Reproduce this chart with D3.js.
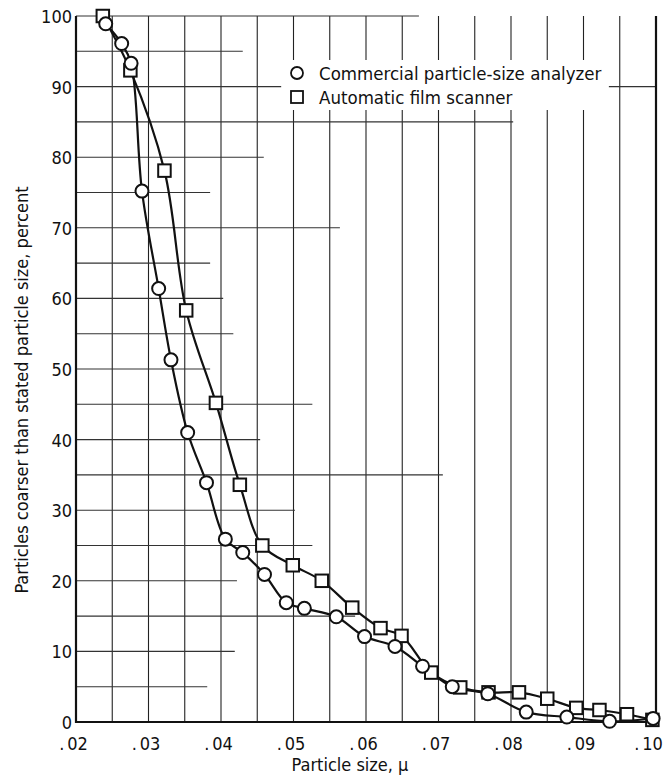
<!DOCTYPE html>
<html>
<head>
<meta charset="utf-8">
<script src="https://cdn.jsdelivr.net/npm/d3@7"></script>
<style>
  body { margin: 0; background: #fff; }
  svg text { font-family: "Liberation Sans Narrow", "DejaVu Sans Condensed", "DejaVu Sans", sans-serif; font-stretch: condensed; fill: #111; }
</style>
</head>
<body>
<div id="chart"></div>
<script>
// particle size (micron) vs percent coarser
const analyzerSize = [0.0241, 0.0263, 0.0276, 0.0291, 0.0314, 0.0331, 0.0354, 0.0380, 0.0406, 0.0430,
  0.0460, 0.0490, 0.0515, 0.0559, 0.0598, 0.0640, 0.0678, 0.0719, 0.0768, 0.0821, 0.0877, 0.0936, 0.0996];
const analyzerPct = [98.9, 96.1, 93.3, 75.2, 61.4, 51.3, 41.0, 33.9, 25.9, 24.0,
  20.9, 16.9, 16.1, 14.9, 12.1, 10.7, 7.9, 5.0, 4.0, 1.4, 0.7, 0.1, 0.5];

const scannerSize = [0.0237, 0.0275, 0.0322, 0.0352, 0.0393, 0.0426, 0.0457, 0.0499, 0.0539, 0.0581,
  0.0620, 0.0649, 0.0690, 0.0730, 0.0769, 0.0811, 0.0850, 0.0890, 0.0922, 0.0960, 0.0995];
const scannerPct = [100, 92.3, 78.1, 58.3, 45.2, 33.6, 25.0, 22.2, 20.0, 16.2,
  13.3, 12.2, 7.0, 4.9, 4.2, 4.2, 3.3, 2.0, 1.7, 1.1, 0.3];

const xTicks = [0.02, 0.03, 0.04, 0.05, 0.06, 0.07, 0.08, 0.09, 0.10];
const xTickLabels = ['.02', '.03', '.04', '.05', '.06', '.07', '.08', '.09', '.10'];
const yTicks = [0, 10, 20, 30, 40, 50, 60, 70, 80, 90, 100];

// graph-paper lines: vertical every .005, horizontal every 5 percent (ruled only part way)
const vGrid = d3.range(0.025, 0.1, 0.005);
const hGridLevels = [100, 95, 90, 85, 80, 75, 70, 65, 60, 55, 50, 45, 40, 35, 30, 25, 20, 15, 10, 5];
const hGridEnds   = [0.0673, 0.0430, 0.0483, 0.0803, 0.0459, 0.0385, 0.0564, 0.0385, 0.0403, 0.0417,
  0.0385, 0.0526, 0.0454, 0.0706, 0.0502, 0.0526, 0.0422, 0.0585, 0.0419, 0.0381];

const legendLabels = ['Commercial particle-size analyzer', 'Automatic film scanner'];

const width = 663, height = 776;
const margin = { top: 16, right: 7, bottom: 54, left: 76 };

const svg = d3.select('#chart').append('svg')
  .attr('width', width)
  .attr('height', height);

const x = d3.scaleLinear().domain([0.02, 0.10]).range([margin.left, width - margin.right]);
const y = d3.scaleLinear().domain([0, 100]).range([height - margin.bottom, margin.top]);

// vertical grid
svg.append('g').selectAll('line')
  .data(vGrid)
  .join('line')
  .attr('x1', d => x(d)).attr('x2', d => x(d))
  .attr('y1', y(0)).attr('y2', y(100))
  .attr('stroke', '#222')
  .attr('stroke-width', 1.1);

// horizontal grid
svg.append('g').selectAll('line')
  .data(hGridLevels)
  .join('line')
  .attr('x1', x(0.02))
  .attr('x2', (d, i) => x(hGridEnds[i]))
  .attr('y1', d => y(d)).attr('y2', d => y(d))
  .attr('stroke', '#333')
  .attr('stroke-width', 1.1);

// short piece of the 90 line to the right of the legend
svg.append('line')
  .attr('x1', x(0.0935)).attr('x2', x(0.10))
  .attr('y1', y(90)).attr('y2', y(90))
  .attr('stroke', '#333').attr('stroke-width', 1.1);

// frame: left, bottom, right
svg.append('path')
  .attr('d', `M${x(0.02)},${y(100)}V${y(0)}H${x(0.10)}V${y(100)}`)
  .attr('fill', 'none')
  .attr('stroke', '#111')
  .attr('stroke-width', 2.2);

// axes
const xAxis = d3.axisBottom(x)
  .tickValues(xTicks)
  .tickSize(0)
  .tickFormat((d, i) => xTickLabels[i]);

const xAxisG = svg.append('g')
  .attr('transform', `translate(0,${y(0)})`)
  .call(xAxis);
xAxisG.select('.domain').remove();
xAxisG.selectAll('text')
  .attr('y', 15)
  .attr('dx', (d, i) => i === xTicks.length - 1 ? -8 : -3)
  .style('font-size', '18px')
  .each(function (d, i) {
    const t = d3.select(this);
    const lab = xTickLabels[i];
    t.text(null);
    t.append('tspan').text(lab.slice(0, 1));
    t.append('tspan').attr('dx', 3).text(lab.slice(1));
  });

const yAxis = d3.axisLeft(y)
  .tickValues(yTicks)
  .tickSize(0)
  .tickFormat(d3.format('d'));

const yAxisG = svg.append('g')
  .attr('transform', `translate(${x(0.02)},0)`)
  .call(yAxis);
yAxisG.select('.domain').remove();
yAxisG.selectAll('text')
  .attr('x', -4)
  .attr('dy', '0.36em')
  .style('font-size', '18px');

// axis titles
svg.append('text')
  .attr('x', 350)
  .attr('y', 771)
  .attr('text-anchor', 'middle')
  .style('font-size', '18px')
  .text('Particle size, \u03bc');

svg.append('text')
  .attr('transform', 'translate(28,390) rotate(-90)')
  .attr('text-anchor', 'middle')
  .style('font-size', '18px')
  .text('Particles coarser than stated particle size, percent');

// data lines
const analyzer = analyzerSize.map((d, i) => ({ size: d, pct: analyzerPct[i] }));
const scanner = scannerSize.map((d, i) => ({ size: d, pct: scannerPct[i] }));

const line = d3.line()
  .x(d => x(d.size))
  .y(d => y(d.pct))
  .curve(d3.curveCatmullRom.alpha(0.5));

[analyzer, scanner].forEach(series => {
  svg.append('path')
    .datum(series)
    .attr('d', line)
    .attr('fill', 'none')
    .attr('stroke', '#111')
    .attr('stroke-width', 2.2);
});

// markers
const sq = 12.5;
svg.append('g').selectAll('rect')
  .data(scanner)
  .join('rect')
  .attr('x', d => x(d.size) - sq / 2)
  .attr('y', d => y(d.pct) - sq / 2)
  .attr('width', sq).attr('height', sq)
  .attr('fill', '#fff')
  .attr('stroke', '#111')
  .attr('stroke-width', 2);

svg.append('g').selectAll('circle')
  .data(analyzer)
  .join('circle')
  .attr('cx', d => x(d.size))
  .attr('cy', d => y(d.pct))
  .attr('r', 6.5)
  .attr('fill', '#fff')
  .attr('stroke', '#111')
  .attr('stroke-width', 2);

// legend
const legend = svg.append('g').attr('transform', 'translate(297,73)');
legend.append('rect')
  .attr('x', -10).attr('y', -13)
  .attr('width', 310).attr('height', 50)
  .attr('fill', '#fff');
legend.append('circle')
  .attr('r', 6).attr('fill', '#fff').attr('stroke', '#111').attr('stroke-width', 1.8);
legend.append('rect')
  .attr('x', -6).attr('y', 18).attr('width', 12).attr('height', 12)
  .attr('fill', '#fff').attr('stroke', '#111').attr('stroke-width', 1.8);
legend.selectAll('text.leg')
  .data(legendLabels)
  .join('text')
  .attr('class', 'leg')
  .attr('x', 22)
  .attr('y', (d, i) => i * 24 + 7)
  .style('font-size', '18.5px')
  .text(d => d);
</script>
</body>
</html>
